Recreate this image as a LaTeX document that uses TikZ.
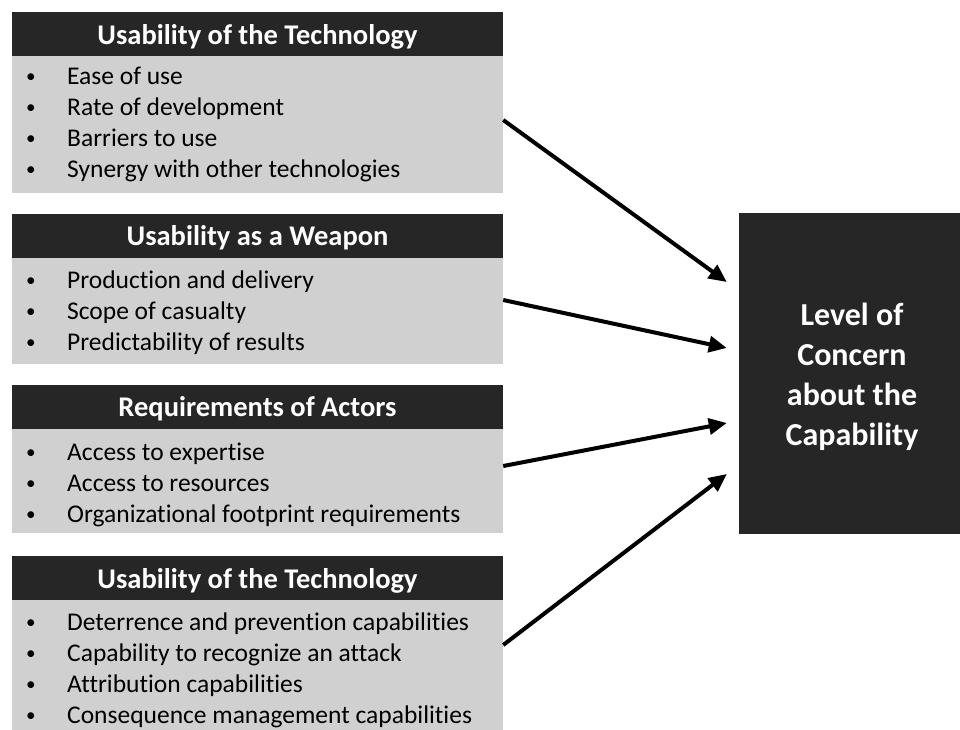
\documentclass[tikz,border=0pt]{standalone}
\usepackage{fontspec}
\setmainfont[Ligatures=NoCommon]{Carlito}
\usetikzlibrary{arrows.meta,calc}
\definecolor{hdrgray}{HTML}{262626}
\definecolor{bodygray}{HTML}{D0D0D0}
\newcommand{\bul}{\makebox[41pt][l]{\raisebox{2pt}{\scalebox{0.75}{\textbullet}}}}
\begin{document}
\begin{tikzpicture}[x=1pt,y=-1pt,
  hdr/.style={fill=hdrgray, text=white, minimum width=491pt, minimum height=44pt,
    inner sep=0pt, font=\fontsize{28.5}{32}\selectfont\bfseries},
  bodybox/.style={fill=bodygray, minimum width=491pt, inner sep=0pt},
  itemlist/.style={anchor=west, align=left, inner sep=0pt, text=black,
    font=\fontsize{25.5}{31}\selectfont},
  concernbox/.style={fill=hdrgray, text=white, minimum width=226pt, minimum height=321pt,
    inner sep=0pt, align=center, font=\fontsize{32}{40}\selectfont\bfseries},
  arr/.style={draw=black, line width=4pt, -{Triangle[length=18pt,width=16pt]}}
]
\clip (0,0) rectangle (960,729);
\fill[white] (0,0) rectangle (960,729);

% header bars sit on top of the grey item boxes
\node[bodybox, minimum height=137pt] (b1) at (257.5,124.5) {};
\node[hdr] (h1) at (257.5,34) {};
\node[hdr, fill=none] (t1) at (257.5,36.5) {Usability of the Technology};
\node[itemlist] (l1) at (26,124.5) {\bul Ease of use\\ \bul Rate of development\\ \bul Barriers to use\\ \bul Synergy with other technologies};

\node[bodybox, minimum height=107pt] (b2) at (257.5,310.5) {};
\node[hdr] (h2) at (257.5,235.5) {};
\node[hdr, fill=none] (t2) at (257.5,238) {Usability as a Weapon};
\node[itemlist] (l2) at (26,312.5) {\bul Production and delivery\\ \bul Scope of casualty\\ \bul Predictability of results};

\node[bodybox, minimum height=105pt] (b3) at (257.5,480.5) {};
\node[hdr] (h3) at (257.5,406.5) {};
\node[hdr, fill=none] (t3) at (257.5,409) {Requirements of Actors};
\node[itemlist] (l3) at (26,485) {\bul Access to expertise\\ \bul Access to resources\\ \bul Organizational footprint requirements};

\node[bodybox, minimum height=135pt] (b4) at (257.5,667.5) {};
\node[hdr] (h4) at (257.5,578) {};
\node[hdr, fill=none] (t4) at (257.5,580.5) {Usability of the Technology};
\node[itemlist] (l4) at (26,670) {\bul Deterrence and prevention capabilities\\ \bul Capability to recognize an attack\\ \bul Attribution capabilities\\ \bul Consequence management capabilities};

% target box
\node[concernbox] (concern) at (852,373.5) {};
\node[concernbox, fill=none] (ct) at (852,376.5) {Level of\\Concern\\about the\\Capability};

% connectors
\draw[arr] ($(b1.east)+(0,-4.5)$) -- ($(concern.west)+(-12,-91.5)$);
\draw[arr] ($(b2.east)+(0,-10.5)$) -- ($(concern.west)+(-12,-25.5)$);
\draw[arr] ($(b3.east)+(0,-14.5)$) -- ($(concern.west)+(-12,49.5)$);
\draw[arr] ($(b4.east)+(0,-22.5)$) -- ($(concern.west)+(-12,100.5)$);
\end{tikzpicture}
\end{document}
